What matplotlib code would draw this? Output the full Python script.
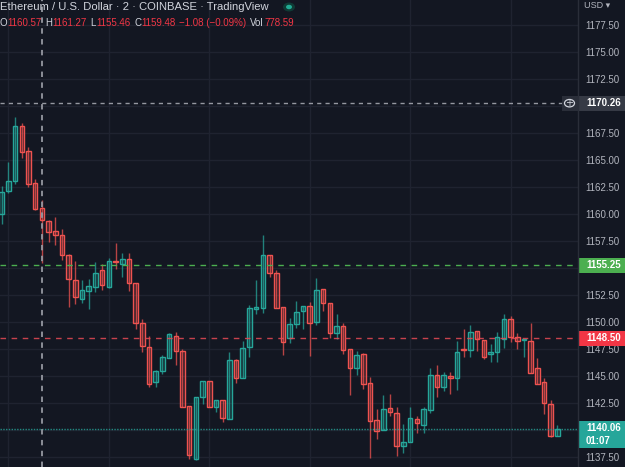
import matplotlib
matplotlib.use("Agg")
import matplotlib.pyplot as plt
from matplotlib.patches import Rectangle, Circle
import numpy as np

# ---------------- data ----------------
opens = [1159.97, 1162.10, 1163.08, 1168.15, 1165.86, 1162.84, 1160.57, 1159.38, 1158.43, 1158.06,
         1156.20, 1153.89, 1152.10, 1152.90, 1153.27, 1154.82, 1153.27, 1155.65, 1155.34, 1155.81,
         1153.58, 1149.88, 1147.66, 1144.47, 1145.49, 1146.69, 1148.73, 1147.31, 1142.22, 1137.29,
         1143.03, 1144.51, 1142.13, 1142.75, 1141.05, 1146.45, 1144.82, 1147.66, 1151.23, 1151.32,
         1156.23, 1154.57, 1151.36, 1148.55, 1149.79, 1151.02, 1151.51, 1150.03, 1153.03, 1151.79,
         1149.01, 1149.66, 1147.47, 1145.77, 1147.04, 1144.32, 1140.93, 1140.00, 1142.01, 1141.60,
         1138.55, 1138.86, 1140.99, 1140.46, 1141.85, 1145.12, 1144.01, 1144.97, 1144.82, 1147.53,
         1147.43, 1149.17, 1148.33, 1147.01, 1147.19, 1148.43, 1150.25, 1148.64, 1148.33, 1148.24,
         1145.71, 1144.42, 1142.38, 1139.42]
closes = [1162.06, 1163.06, 1168.15, 1165.77, 1162.75, 1160.46, 1159.48, 1158.31, 1158.06, 1156.20,
          1153.98, 1152.34, 1152.96, 1153.33, 1154.57, 1153.43, 1155.65, 1155.58, 1155.81, 1153.58,
          1149.88, 1147.81, 1144.26, 1145.46, 1146.73, 1148.86, 1147.34, 1142.10, 1137.69, 1143.03,
          1144.51, 1142.10, 1142.75, 1141.08, 1146.45, 1144.82, 1147.59, 1151.27, 1151.36, 1156.23,
          1154.51, 1151.32, 1148.15, 1149.79, 1150.95, 1151.51, 1149.88, 1152.96, 1151.79, 1149.01,
          1149.66, 1147.41, 1145.77, 1146.92, 1144.26, 1140.86, 1139.95, 1141.92, 1141.69, 1138.55,
          1138.86, 1141.08, 1140.62, 1141.92, 1145.12, 1144.01, 1145.06, 1144.84, 1147.19, 1147.43,
          1149.05, 1148.38, 1146.79, 1147.25, 1148.58, 1150.25, 1148.64, 1148.27, 1148.45, 1145.31,
          1144.26, 1142.53, 1139.44, 1140.06]
highs = [1162.59, 1164.84, 1168.95, 1168.45, 1166.18, 1163.24, 1161.27, 1159.48, 1159.75, 1158.61,
         1156.30, 1155.65, 1153.89, 1153.98, 1155.53, 1155.34, 1155.90, 1157.29, 1156.36, 1156.36,
         1153.58, 1150.25, 1148.70, 1145.56, 1146.94, 1148.95, 1149.05, 1147.47, 1142.22, 1143.06,
         1144.51, 1144.54, 1142.75, 1142.75, 1147.22, 1146.60, 1148.24, 1151.57, 1153.89, 1158.06,
         1156.23, 1154.82, 1151.36, 1150.40, 1151.97, 1151.51, 1151.88, 1154.05, 1153.03, 1151.79,
         1150.74, 1149.88, 1147.47, 1147.34, 1147.10, 1144.88, 1141.92, 1143.24, 1143.31, 1142.10,
         1140.56, 1142.10, 1141.30, 1142.10, 1145.71, 1146.02, 1145.40, 1145.40, 1148.24, 1149.32,
         1149.72, 1149.17, 1148.33, 1147.94, 1149.05, 1150.74, 1150.56, 1148.95, 1148.45, 1149.88,
         1146.64, 1144.79, 1142.78, 1140.46]
lows = [1159.05, 1161.97, 1162.78, 1165.16, 1162.47, 1160.40, 1155.46, 1157.38, 1157.13, 1155.74,
        1151.42, 1151.64, 1151.73, 1151.20, 1152.81, 1152.96, 1153.12, 1154.88, 1154.14, 1152.87,
        1149.35, 1147.19, 1144.01, 1144.01, 1145.16, 1146.69, 1146.02, 1142.10, 1137.31, 1137.22,
        1142.38, 1142.10, 1141.69, 1140.71, 1141.00, 1144.38, 1144.82, 1146.73, 1150.71, 1150.86,
        1154.14, 1151.32, 1146.94, 1148.03, 1149.42, 1149.32, 1146.88, 1149.72, 1151.05, 1148.49,
        1148.43, 1147.04, 1143.24, 1145.09, 1143.77, 1137.41, 1139.19, 1140.00, 1141.30, 1137.59,
        1137.90, 1138.86, 1139.69, 1139.69, 1141.60, 1143.08, 1143.64, 1143.33, 1143.70, 1146.79,
        1146.79, 1147.34, 1146.57, 1146.27, 1146.32, 1147.62, 1148.18, 1147.47, 1146.79, 1145.31,
        1144.26, 1141.45, 1139.38, 1139.42]

tick_values = [1137.50, 1142.50, 1145.00, 1147.50, 1150.00, 1152.50, 1157.50, 1160.00,
               1162.50, 1165.00, 1167.50, 1172.50, 1175.00, 1177.50]
crosshair_price = 1170.26
crosshair_bar = 6
green_line = 1155.25
red_line = 1148.50
last_price = 1140.06
countdown = "01:07"
title = "Ethereum / U.S. Dollar · 2 · COINBASE · TradingView"
ohlc_header = [("O", "1160.57"), ("H", "1161.27"), ("L", "1155.46"), ("C", "1159.48"),
               ("", "−1.08 (−0.09%)"), ("Vol", "778.59")]

# ---------------- style ----------------
BG = "#131722"
GRID = "#1f2330"
UP = "#26a69a"
DN = "#ef5350"
TXT = "#b2b5be"
FONT = "Liberation Sans"

W, H = 625, 467
fig = plt.figure(figsize=(W / 100, H / 100), dpi=100, facecolor=BG)
ax = fig.add_axes([0, 0, 578 / W, 1])
ax.set_facecolor(BG)

n = len(opens)
spacing = 6.696
ax.set_xlim(-1.7 / spacing, -1.7 / spacing + 578 / spacing)
ax.set_ylim(1177.5 - 442 / 10.8, 1177.5 + 25 / 10.8)

# grid
for gx in range(1, n, 15):
    ax.axvline(gx, color=GRID, lw=1, zorder=0)
for gy in np.arange(1137.5, 1180, 2.5):
    ax.axhline(gy, color=GRID, lw=1, zorder=0)

# candles
bw = 0.68
for i in range(n):
    o, c, h, l = opens[i], closes[i], highs[i], lows[i]
    col = UP if c >= o else DN
    ax.vlines(i, l, h, color=col, lw=1, alpha=0.75, zorder=2)
    lo, hi = min(o, c), max(o, c)
    if hi - lo < 0.1:
        hi = lo + 0.1
    ax.add_patch(Rectangle((i - bw / 2, lo), bw, hi - lo, facecolor=col, alpha=0.18,
                           edgecolor="none", zorder=3))
    ax.add_patch(Rectangle((i - bw / 2, lo), bw, hi - lo, facecolor="none",
                           edgecolor=col, lw=1.0, zorder=4))

# horizontal lines
ax.axhline(green_line, color="#4caf50", lw=1, ls=(0, (4, 4)), zorder=5)
ax.axhline(red_line, color="#e84a55", lw=1, ls=(0, (4, 4)), zorder=5, alpha=0.85)
ax.axhline(last_price, color=UP, lw=1, ls=(0, (1, 1)), zorder=5, alpha=0.8)
ax.plot([ax.get_xlim()[0], 84.0], [crosshair_price] * 2, color="#9598a1", lw=1,
        ls=(0, (3, 3)), zorder=6)
ax.axvline(crosshair_bar, color="#9598a1", lw=1.3, ls=(0, (3, 3)), zorder=6)

# axes cosmetics
for s in ax.spines.values():
    s.set_visible(False)
ax.tick_params(axis="x", bottom=False, labelbottom=False)
ax.yaxis.tick_right()
ax.set_yticks(tick_values)
ax.set_yticklabels([f"{v:.2f}" for v in tick_values])
ax.tick_params(axis="y", length=0, pad=5.5, labelsize=7, labelcolor=TXT)
for lab in ax.get_yticklabels():
    lab.set_fontfamily(FONT)

# separator line of price scale
fig.add_artist(plt.Line2D([578 / W, 578 / W], [0, 1], color="#2a2e39", lw=1))

def py(price):
    return (25 + (1177.5 - price) * 10.8)

def price_box(price, text, color, tcolor="white", h=15, two=None):
    yc = py(price)
    if two is None:
        fig.add_artist(Rectangle((579 / W, 1 - (yc + h / 2) / H), 46 / W, h / H,
                                 facecolor=color, edgecolor="none", transform=fig.transFigure))
        fig.text(586 / W, 1 - yc / H, text, color=tcolor, fontsize=7, fontweight="bold",
                 va="center", ha="left", family=FONT)
    else:
        top = yc - 8
        hh = 27
        fig.add_artist(Rectangle((579 / W, 1 - (top + hh) / H), 46 / W, hh / H,
                                 facecolor=color, edgecolor="none", transform=fig.transFigure))
        fig.text(586 / W, 1 - (top + 7) / H, text, color=tcolor, fontsize=7, fontweight="bold",
                 va="center", ha="left", family=FONT)
        fig.text(586 / W, 1 - (top + 19.5) / H, two, color=tcolor, fontsize=7, fontweight="bold",
                 va="center", ha="left", family=FONT)

price_box(crosshair_price, f"{crosshair_price:.2f}", "#363a45")
price_box(green_line, f"{green_line:.2f}", "#4caf50")
price_box(red_line, f"{red_line:.2f}", "#f23645")
price_box(last_price, f"{last_price:.2f}", UP, two=countdown)

# plus-circle button on crosshair line
yc = py(crosshair_price)
fig.add_artist(Rectangle((562 / W, 1 - (yc + 7.5) / H), 16 / W, 15 / H, facecolor="#2a2e39",
                         edgecolor="none", transform=fig.transFigure))
fig.add_artist(Circle((569.5 / W, 1 - yc / H), 5 / W, facecolor="none", edgecolor="#d1d4dc",
                      lw=0.9, transform=fig.transFigure))
fig.text(569.5 / W, 1 - yc / H, "+", color="#d1d4dc", fontsize=7, ha="center", va="center")

# USD header on scale
fig.text(584 / W, 1 - 5 / H, "USD ▾", color=TXT, fontsize=6.5, va="center", ha="left",
         family=[FONT, "DejaVu Sans"])

# title text
fig.text(0, 1 - 7.5 / H, title, color="#d1d4dc", fontsize=8.1, va="center", ha="left", family=FONT)
fig.add_artist(Circle((289 / W, 1 - 7 / H), 6 / W, facecolor="#0f3b35", edgecolor="none",
                      transform=fig.transFigure))
fig.add_artist(Circle((289 / W, 1 - 7 / H), 3 / W, facecolor="#22ab94", edgecolor="none",
                      transform=fig.transFigure))

# OHLC line
renderer = fig.canvas.get_renderer()
xpos = -1.0
for lbl, val in ohlc_header:
    for s, col in ((lbl, "#d1d4dc"), (val, "#f23645")):
        if not s:
            continue
        t = fig.text(xpos / W, 1 - 23 / H, s, color=col, fontsize=7.0, va="center", ha="left",
                     family=FONT)
        bb = t.get_window_extent(renderer)
        xpos += bb.width + 0.3
    xpos += 3.5

fig.savefig("out.png", dpi=100, facecolor=BG)
